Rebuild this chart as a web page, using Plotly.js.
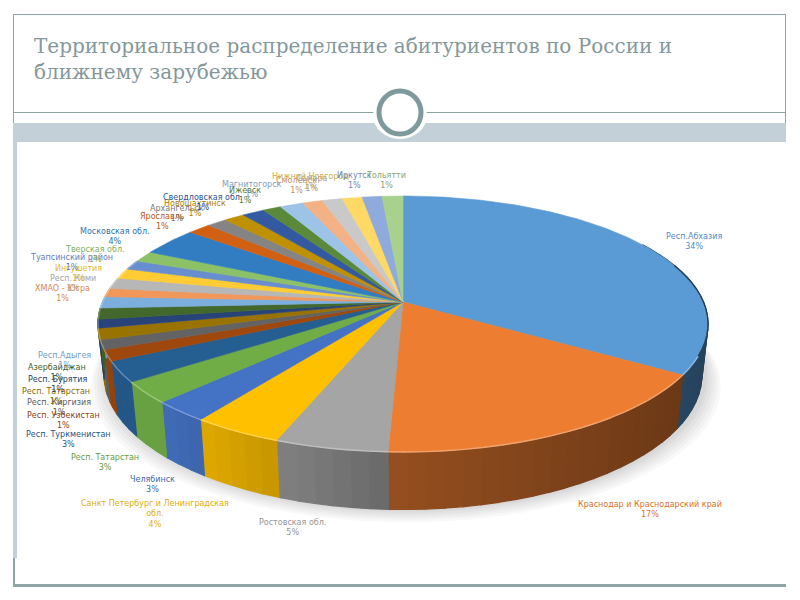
<!DOCTYPE html>
<html lang="ru">
<head>
<meta charset="utf-8">
<script src="https://cdn.plot.ly/plotly-3.0.1.min.js"></script>
<style>
    html, body { margin: 0; padding: 0; background: #ffffff; }
    #chart { width: 800px; height: 600px; }
</style>
</head>
<body>
<div id="chart"></div>
<script>
// Chart data, clockwise from 12 o'clock
const regions = [
    'Респ.Абхазия', 'Краснодар и Краснодарский край', 'Ростовская обл.',
    'Санкт Петербург и Ленинградская<br>обл.', 'Челябинск', 'Респ. Татарстан',
    'Респ. Туркменистан', 'Респ. Узбекистан', 'Респ. Киргизия', 'Респ. Татарстан',
    'Респ. Бурятия', 'Азербайджан', 'Респ.Адыгея', 'ХМАО - Югра', 'Респ. Коми',
    'Ингушетия', 'Туапсинский район', 'Тверская обл.', 'Московская обл.', 'Ярославль',
    'Архангельск', 'Новошахтинск', 'Свердловская обл.', 'Ижевск', 'Магнитогорск',
    'Смоленск', 'Самара', 'Нижний Новгород', 'Иркутск', 'Тольятти'
];
const shares = [
    34, 16.7, 5.1, 4.1, 2.6, 2.7, 2.6, 1.4, 1.2, 1.4,
    1.1, 1.4, 1.45, 1.1, 1.4, 1.3, 1.2, 1.4, 3.6, 1.45,
    1.25, 1.3, 1.4, 1.15, 1.47, 1.25, 1.27, 1.25, 1.25, 1.3
];
const sliceColors = [
    '#5B9BD5', '#ED7D31', '#A5A5A5', '#FFC000', '#4472C4', '#70AD47', '#255E91', '#9E480E',
    '#636363', '#997300', '#264478', '#43682B', '#7CAFDD', '#F1975A', '#B7B7B7', '#FFCD33',
    '#698ED0', '#8CC168', '#327DC2', '#D26012', '#848484', '#BF9000', '#335AA1', '#5A8A39',
    '#9DC3E6', '#F4B183', '#C9C9C9', '#FFD966', '#8FAADC', '#A9D18E'
];

// Hand placed label boxes, the same way they sit on the slide
const labelX = [
    694, 650, 292, 155, 152, 105, 68, 63, 59, 56,
    57, 57, 64, 62, 73, 78, 71, 95, 115, 162,
    177, 195, 203, 245, 252, 296, 312, 310, 354, 386
];
const labelY = [
    241, 509, 527, 514, 484, 462, 439, 420, 407, 396,
    384, 372, 360, 293, 283, 273, 262, 254, 236, 221,
    213, 208, 202, 195, 189, 185, 183, 181, 180, 180
];

// Tilted disc: perspective projection of a unit circle
const centerX = 403, centerY = 302;
const discA = 300.5, discB = 124.2, discK = 0.1718;
const wallDrop = 50;

function rimTop(deg) {
    const t = deg * Math.PI / 180;
    const w = 1 + discK * Math.cos(t);
    return [discA * Math.sin(t) / w, discB * Math.cos(t) / w];
}

function toScreen(p) {
    return [centerX + p[0], centerY - p[1]];
}

function rimBottom(deg) {
    const p = rimTop(deg);
    return toScreen([0.98 * p[0], 1.05 * p[1] - wallDrop]);
}

function hexToRgb(hex) {
    return [1, 3, 5].map(i => parseInt(hex.slice(i, i + 2), 16));
}

function shade(hex, f) {
    const c = hexToRgb(hex).map(v => Math.round(f < 0 ? v + (255 - v) * -f : v * f));
    return `rgb(${c[0]},${c[1]},${c[2]})`;
}

// Light falls from the left, so the wall gets darker to the right
function wallFactor(deg) {
    const u = Math.sin(deg * Math.PI / 180);
    const f = u > 0 ? 0.62 - 0.2 * u : 0.62 - 0.45 * u;
    return Math.min(f, 0.93);
}

const total = shares.reduce((a, b) => a + b, 0);
const traces = [];
const walls = [];
const tops = [];
const rims = [];

function polygon(xs, ys, color, width) {
    return {
        x: xs, y: ys, type: 'scatter', mode: 'lines', fill: 'toself',
        fillcolor: color, line: { color: color, width: width }, hoverinfo: 'skip'
    };
}

// Soft shadow under the disc
[16, 13, 10, 7, 4, 2].forEach(grow => {
    const xs = [], ys = [];
    for (let d = 0; d <= 360; d += 3) {
        const b = rimBottom(d);
        xs.push(b[0] + Math.sin(d * Math.PI / 180) * grow + 3);
        ys.push(b[1] + grow * 0.8);
    }
    traces.push(polygon(xs, ys, 'rgba(60,60,60,0.035)', 0));
});

let start = 0;
shares.forEach((value, i) => {
    const end = start + value / total * 360;
    const color = sliceColors[i];

    // Top face
    const xs = [centerX], ys = [centerY];
    for (let d = start; d < end; d += 1) {
        const p = toScreen(rimTop(d));
        xs.push(p[0]);
        ys.push(p[1]);
    }
    const last = toScreen(rimTop(end));
    xs.push(last[0], centerX);
    ys.push(last[1], centerY);
    tops.push(polygon(xs, ys, color, 0.6));

    // Side wall and bevel, cut into short pieces for the gradient
    const from = Math.max(start, 60), to = Math.min(end, 290);
    for (let d = from; d < to; d += 3) {
        const e = Math.min(d + 3, to);
        const a = toScreen(rimTop(d)), b = toScreen(rimTop(e));
        const c = rimBottom(e), f = rimBottom(d);
        walls.push(polygon([a[0], b[0], c[0], f[0], a[0]], [a[1], b[1], c[1], f[1], a[1]],
            shade(color, wallFactor((d + e) / 2)), 1.2));
        if (d >= 72) {
            const bevel = (d + e) / 2 < 115 ? shade(color, 0.4) : shade(color, -0.3);
            rims.push({
                x: [a[0], b[0]], y: [a[1], b[1]], type: 'scatter', mode: 'lines',
                line: { color: bevel, width: 1.4 }, hoverinfo: 'skip'
            });
        }
    }
    start = end;
});

traces.push(...walls, ...tops, ...rims);

// Data labels
const annotations = regions.map((name, i) => ({
    x: labelX[i], y: labelY[i], xref: 'x', yref: 'y',
    text: `${name}<br>${Math.round(shares[i])}%`,
    showarrow: false, xanchor: 'center', yanchor: 'middle', align: 'center',
    font: { family: 'DejaVu Sans', size: 8, color: shade(sliceColors[i], i > 23 ? 0.8 : 0.9) }
}));

// Slide frame
const frame = '#8fa5a5', band = '#c3d0d8';
function rect(x0, y0, x1, y1, color) {
    return { type: 'rect', xref: 'x', yref: 'y', x0, y0, x1, y1, layer: 'below',
        fillcolor: color, line: { width: 0 } };
}
const shapes = [
    rect(13, 14, 786, 15, frame),
    rect(13, 14, 14, 123, frame),
    rect(785, 14, 786, 123, frame),
    rect(13, 112, 786, 113, frame),
    rect(13, 123, 786, 142, band),
    rect(13, 142, 17, 558, band),
    rect(13, 558, 15, 587, frame),
    rect(13, 584, 786, 587, frame),
    { type: 'circle', xref: 'x', yref: 'y', x0: 373, y0: 92, x1: 427, y1: 139, layer: 'below',
        fillcolor: '#ffffff', line: { width: 0 } },
    { type: 'circle', xref: 'x', yref: 'y', x0: 379, y0: 91, x1: 421, y1: 134, layer: 'below',
        fillcolor: '#ffffff', line: { color: '#7f9a9d', width: 5 } }
];

const layout = {
    width: 800, height: 600,
    margin: { l: 0, r: 0, t: 0, b: 0 },
    paper_bgcolor: '#ffffff', plot_bgcolor: '#ffffff',
    showlegend: false,
    title: {
        text: 'Территориальное распределение абитуриентов по России и<br>ближнему зарубежью',
        x: 34 / 800, xanchor: 'left', xref: 'paper',
        y: 1 - 53 / 600, yanchor: 'middle',
        font: { family: 'DejaVu Serif', size: 20, color: '#84989b' }
    },
    xaxis: { range: [0, 800], visible: false, fixedrange: true },
    yaxis: { range: [600, 0], visible: false, fixedrange: true },
    annotations, shapes
};

Plotly.newPlot('chart', traces, layout, { displayModeBar: false, staticPlot: true });
</script>
</body>
</html>
